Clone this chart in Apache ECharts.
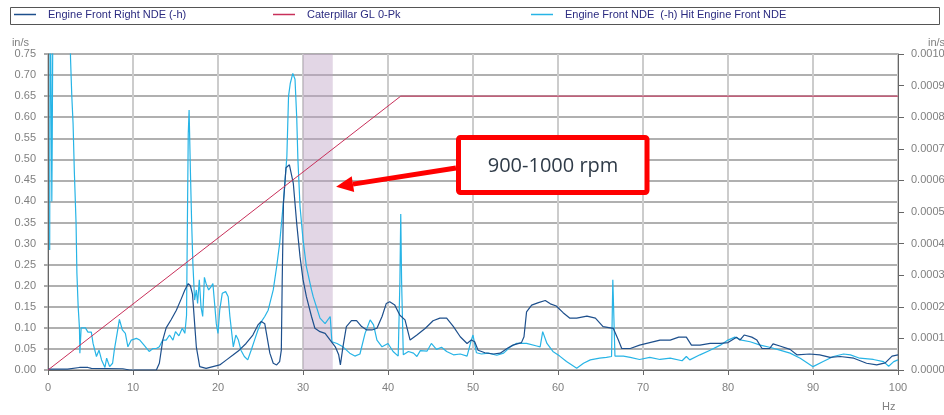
<!DOCTYPE html>
<html>
<head>
<meta charset="utf-8">
<script src="https://cdn.jsdelivr.net/npm/echarts@6/dist/echarts.min.js"></script>
<style>
  html, body { margin: 0; padding: 0; background: #fff; }
  #chart { width: 944px; height: 415px; }
</style>
</head>
<body>
<div id="chart"></div>
<script>
// series names (legend)
const nameRight = 'Engine Front Right NDE (-h)'
const nameLimit = 'Caterpillar GL 0-Pk'
const nameHit = 'Engine Front NDE  (-h) Hit Engine Front NDE'

// Engine Front Right NDE (-h), Hz / in/s
const rightFreq = [0,2.3,2.5,3.7,4.7,5.1,8.8,9.6,12.75,13.1,13.5,13.9,14.5,15.1,15.7,16.1,16.5,16.75,17.0,17.25,17.45,17.85,18.6,19.4,20.2,21.0,21.8,22.5,23.3,24.1,24.7,25.1,25.5,25.7,26.1,26.5,26.9,27.25,27.45,27.55,27.7,28.0,28.4,28.86,29.26,29.65,30.0,30.4,31.0,31.4,32.0,32.6,33.2,33.8,34.2,34.4,34.7,35.1,35.7,36.3,36.9,37.5,38.1,38.7,39.3,39.8,40.2,40.8,41.4,42.0,42.6,43.4,44.4,45.3,46.1,46.9,47.7,48.5,49.3,49.8,50.2,50.6,51.4,52.4,53.2,54.0,54.7,55.7,56.0,56.3,56.9,57.7,58.5,59.1,59.8,60.6,61.4,62.2,63.4,64.4,65.3,66.5,67.1,67.5,68.5,69.6,70.8,72.0,73.2,74.2,75.1,75.7,76.7,77.9,79.1,80.0,81.0,81.4,81.9,82.8,83.4,84.0,84.9,85.3,86.1,87.3,88.1,89.6,90.8,92.0,93.2,94.8,96.3,97.5,98.5,99.3,100]
const rightAmp = [0.002,0.002,0.004,0.006,0.006,0.004,0.003,0.0,0.0,0.016,0.071,0.10,0.12,0.142,0.17,0.19,0.205,0.20,0.18,0.11,0.055,0.008,0.004,0.008,0.012,0.024,0.036,0.047,0.063,0.083,0.107,0.115,0.11,0.087,0.04,0.016,0.012,0.02,0.047,0.206,0.396,0.48,0.487,0.443,0.348,0.269,0.215,0.174,0.127,0.099,0.091,0.087,0.071,0.055,0.036,0.012,0.055,0.103,0.117,0.117,0.103,0.095,0.095,0.099,0.127,0.158,0.162,0.154,0.13,0.119,0.071,0.083,0.099,0.117,0.123,0.123,0.103,0.079,0.063,0.071,0.067,0.047,0.041,0.038,0.04,0.051,0.059,0.065,0.079,0.138,0.154,0.16,0.165,0.157,0.152,0.136,0.123,0.123,0.128,0.123,0.103,0.099,0.071,0.051,0.051,0.059,0.065,0.071,0.071,0.078,0.078,0.059,0.059,0.063,0.063,0.065,0.078,0.071,0.083,0.078,0.071,0.051,0.051,0.062,0.057,0.049,0.036,0.038,0.036,0.03,0.032,0.028,0.016,0.012,0.017,0.033,0.036]

// Caterpillar GL 0-Pk limit line
const limitFreq = [0, 41.5, 100]
const limitAmp = [0, 0.65, 0.65]

// Engine Front NDE (-h) Hit Engine Front NDE
const hitFreq = [0.2,0.25,0.38,0.45,0.5,0.6,1.5,2.5,2.65,2.8,2.95,3.1,3.3,3.4,3.55,3.7,3.75,3.9,4.4,4.7,5.1,5.3,5.7,6.0,6.3,6.7,6.9,7.25,7.6,7.8,8.2,8.4,8.75,9.1,9.4,9.8,10.4,10.8,11.25,11.9,12.35,12.75,13.1,13.5,13.9,14.3,14.7,15.0,15.4,15.8,16.1,16.3,16.4,16.5,16.6,16.75,16.9,17.05,17.25,17.45,17.6,17.8,18.0,18.2,18.4,18.6,18.9,19.2,19.4,19.6,19.8,20.0,20.2,20.5,20.9,21.2,21.4,21.8,22.1,22.4,22.7,23.1,23.5,23.9,24.3,24.7,25.1,25.5,25.9,26.5,26.9,27.25,27.7,28.1,28.3,28.5,28.8,29.06,29.26,29.4,29.65,30.0,30.4,31.0,31.2,32.0,32.6,33.2,33.4,34.0,34.7,35.5,36.1,36.7,37.3,37.9,38.3,38.7,39.3,40.0,40.6,41.2,41.4,41.5,41.6,41.8,42.4,43.0,43.4,43.8,44.6,45.1,45.7,46.3,46.9,47.7,48.5,49.3,49.8,50.0,50.4,51.0,51.8,52.8,53.6,54.4,55.1,56.3,57.5,57.9,58.2,58.7,59.4,60.2,61.0,62.2,63.0,63.8,64.9,65.7,66.3,66.45,66.6,66.7,67.7,68.5,69.6,70.8,72.0,73.2,74.6,75.1,75.5,76.7,77.9,79.1,80.0,80.8,81.6,82.6,83.8,84.9,86.1,87.3,88.5,90.0,91.2,92.4,93.6,94.4,95.5,97.1,98.3,98.9,99.5,100]
const hitAmp = [0.285,0.95,0.62,0.40,0.55,0.95,1.1,0.95,0.74,0.65,0.585,0.47,0.35,0.23,0.15,0.10,0.04,0.10,0.10,0.09,0.09,0.063,0.032,0.047,0.024,0.006,0.028,0.008,0.016,0.047,0.095,0.12,0.095,0.087,0.055,0.071,0.075,0.071,0.06,0.044,0.051,0.051,0.055,0.071,0.071,0.083,0.071,0.091,0.081,0.099,0.087,0.13,0.35,0.56,0.617,0.475,0.35,0.25,0.166,0.19,0.158,0.214,0.15,0.127,0.22,0.205,0.19,0.198,0.205,0.158,0.11,0.087,0.142,0.182,0.186,0.174,0.127,0.055,0.083,0.071,0.047,0.032,0.024,0.047,0.071,0.095,0.115,0.127,0.142,0.19,0.245,0.30,0.40,0.506,0.65,0.68,0.704,0.69,0.60,0.50,0.388,0.31,0.245,0.19,0.174,0.123,0.11,0.127,0.067,0.063,0.055,0.04,0.033,0.038,0.087,0.119,0.107,0.071,0.055,0.063,0.044,0.033,0.21,0.37,0.21,0.036,0.044,0.04,0.032,0.046,0.045,0.063,0.049,0.054,0.044,0.036,0.038,0.033,0.071,0.083,0.041,0.038,0.04,0.035,0.04,0.055,0.063,0.063,0.057,0.055,0.091,0.063,0.044,0.033,0.02,0.004,0.016,0.024,0.028,0.03,0.032,0.214,0.214,0.033,0.033,0.03,0.025,0.03,0.025,0.028,0.022,0.032,0.024,0.036,0.047,0.059,0.071,0.078,0.071,0.067,0.059,0.054,0.047,0.04,0.028,0.008,0.02,0.032,0.038,0.036,0.028,0.025,0.02,0.009,0.02,0.024]

// shaded 900-1000 rpm band (Hz)
const bandFreq = [30, 33.5]
// where the annotation arrow points (Hz, in/s)
const arrowTarget = [33.9, 0.435]

function zip(xs, ys) {
  return xs.map((x, i) => [x, ys[i]])
}

const tickColor = '#808080'
const legendText = { fontSize: 11, color: '#2b2b80', fontFamily: 'Liberation Sans, Arial', padding: [0, 0, 0, 7] }

function legendAt(name, left) {
  return {
    data: [name], left: left, top: 9, padding: 0,
    icon: 'rect', itemWidth: 22, itemHeight: 1.5,
    textStyle: legendText, selectedMode: false
  }
}

const chart = echarts.init(document.getElementById('chart'))

chart.setOption({
  backgroundColor: '#FFFFFF',
  animation: false,
  textStyle: { fontFamily: 'Liberation Sans, Arial' },
  legend: [
    legendAt(nameRight, 14),
    legendAt(nameLimit, 273),
    legendAt(nameHit, 531)
  ],
  grid: {
    left: 48, right: 46, top: 54, bottom: 45,
    containLabel: false, outerBoundsMode: 'none',
    show: true, borderColor: '#666', borderWidth: 1
  },
  xAxis: {
    type: 'value', min: 0, max: 100, interval: 10,
    axisLine: { lineStyle: { color: '#666' } },
    axisTick: { length: 5, lineStyle: { color: '#666' } },
    axisLabel: { color: tickColor, fontSize: 11, margin: 12 },
    splitLine: { lineStyle: { color: '#cccccc', width: 2 } }
  },
  yAxis: [
    {
      type: 'value', min: 0, max: 0.75, interval: 0.05,
      name: 'in/s', nameLocation: 'end', nameGap: 6,
      nameTextStyle: { color: tickColor, fontSize: 11, align: 'right', padding: [0, 19, 0, 0] },
      axisLine: { show: true, lineStyle: { color: '#666' } },
      axisTick: { show: true, length: 4, lineStyle: { color: '#aaa', width: 2 } },
      axisLabel: { color: tickColor, fontSize: 11, margin: 12, formatter: v => v.toFixed(2) },
      splitLine: { lineStyle: { color: '#b0b0b0', width: 2 } }
    },
    {
      type: 'value', min: 0, max: 0.001, interval: 0.0001, position: 'right',
      name: 'in/s', nameLocation: 'end', nameGap: 6,
      nameTextStyle: { color: tickColor, fontSize: 11, align: 'left', padding: [0, 0, 0, 30] },
      axisLine: { show: true, lineStyle: { color: '#666' } },
      axisTick: { show: true, length: 6, lineStyle: { color: '#666' } },
      axisLabel: { color: tickColor, fontSize: 11, margin: 13, formatter: v => v.toFixed(4) },
      splitLine: { show: false }
    }
  ],
  series: [
    {
      name: nameHit, type: 'line', showSymbol: false, symbol: 'none',
      color: '#27b4e6', lineStyle: { width: 1.2 },
      data: zip(hitFreq, hitAmp),
      markArea: {
        silent: true,
        itemStyle: { color: 'rgba(190,165,197,0.45)' },
        data: [[{ xAxis: bandFreq[0] }, { xAxis: bandFreq[1] }]]
      }
    },
    {
      name: nameRight, type: 'line', showSymbol: false, symbol: 'none',
      color: '#1d4f8c', lineStyle: { width: 1.2 },
      data: zip(rightFreq, rightAmp)
    },
    {
      name: nameLimit, type: 'line', showSymbol: false, symbol: 'none',
      color: '#c8305a', lineStyle: { width: 1 },
      data: zip(limitFreq, limitAmp)
    }
  ]
})

// annotation: legend frame, box, arrow, unit label
const tip = chart.convertToPixel({ xAxisIndex: 0, yAxisIndex: 0 }, arrowTarget)
const from = [456, 168]
const dx = from[0] - tip[0], dy = from[1] - tip[1]
const len = Math.sqrt(dx * dx + dy * dy)
const ux = dx / len, uy = dy / len
const headLen = 17, headHalf = 8
const bx = tip[0] + ux * headLen, by = tip[1] + uy * headLen

chart.setOption({
  graphic: [
    { type: 'rect', z: 0, shape: { x: 10.5, y: 7.5, width: 929, height: 17 }, style: { fill: 'none', stroke: '#555', lineWidth: 1 } },
    { type: 'text', x: 882, y: 401, style: { text: 'Hz', fill: tickColor, fontSize: 11, fontFamily: 'Liberation Sans, Arial' } },
    { type: 'line', z: 100, shape: { x1: from[0], y1: from[1], x2: bx, y2: by }, style: { stroke: '#ff0000', lineWidth: 5 } },
    { type: 'polygon', z: 100, shape: { points: [tip, [bx - uy * headHalf, by + ux * headHalf], [bx + uy * headHalf, by - ux * headHalf]] }, style: { fill: '#ff0000' } },
    { type: 'rect', z: 100, shape: { x: 458.5, y: 137.5, width: 188.5, height: 55, r: 2 }, style: { fill: '#fff', stroke: '#ff0000', lineWidth: 5 } },
    { type: 'text', z: 101, x: 553, y: 166, style: { text: '900-1000 rpm', fill: '#2f3b48', fontSize: 20, fontFamily: 'Open Sans', align: 'center', verticalAlign: 'middle' } }
  ]
})
</script>
</body>
</html>
